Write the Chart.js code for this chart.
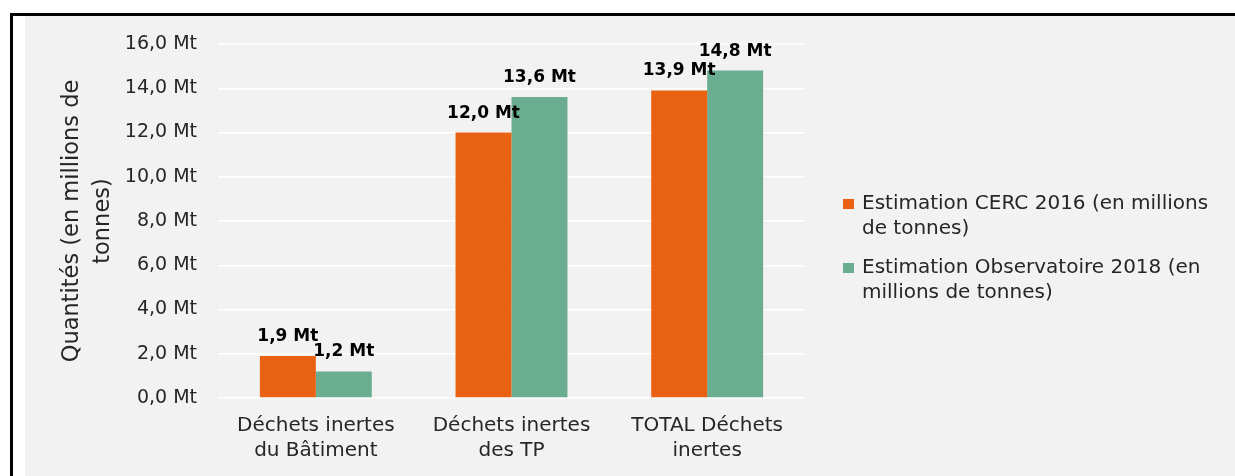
<!DOCTYPE html>
<html>
<head>
<meta charset="utf-8">
<script src="https://cdn.jsdelivr.net/npm/chart.js@4"></script>
<style>
  body { margin: 0; background: #fff; font-family: "DejaVu Sans", sans-serif; }
  #frame { position: absolute; left: 10px; top: 13px; width: 1225px; height: 463px;
           border-top: 3px solid #000; border-left: 3px solid #000; }
  #panel { position: absolute; left: 25px; top: 16px; width: 1210px; height: 460px; background: #f2f2f2; }
  #wrap { position: absolute; left: 0; top: 0; width: 1235px; height: 476px; }
  #legend { position: absolute; left: 843px; top: 190px; color: #262626; font-size: 20px; line-height: 25px; }
  .item { position: relative; padding-left: 19px; margin-bottom: 13.5px; white-space: nowrap; }
  .box { position: absolute; left: 0; top: 9px; width: 11px; height: 10px; }
</style>
</head>
<body>
<div id="frame"></div>
<div id="panel"></div>
<div id="wrap"><canvas id="chart"></canvas></div>
<div id="legend"></div>
<script>
// data
var categories = [['Déchets inertes', 'du Bâtiment'], ['Déchets inertes', 'des TP'], ['TOTAL Déchets', 'inertes']];
var cerc2016 = [1.9, 12.0, 13.9];
var observatoire2018 = [1.2, 13.6, 14.8];
var seriesNames = [
  ['Estimation CERC 2016 (en millions', 'de tonnes)'],
  ['Estimation Observatoire 2018 (en', 'millions de tonnes)']
];
var yTicks = ['0,0 Mt', '2,0 Mt', '4,0 Mt', '6,0 Mt', '8,0 Mt', '10,0 Mt', '12,0 Mt', '14,0 Mt', '16,0 Mt'];

var colors = ['#e96214', '#6aad91'];

function fmt(v) { return v.toFixed(1).replace('.', ',') + ' Mt'; }

// value labels above bars
var valueLabels = {
  id: 'valueLabels',
  afterDatasetsDraw: function(chart) {
    var ctx = chart.ctx;
    ctx.save();
    ctx.font = 'bold 17px "DejaVu Sans"';
    ctx.fillStyle = '#000';
    ctx.textAlign = 'center';
    ctx.textBaseline = 'alphabetic';
    chart.data.datasets.forEach(function(ds, i) {
      chart.getDatasetMeta(i).data.forEach(function(bar, j) {
        ctx.fillText(fmt(ds.data[j]), bar.x, bar.y - 15);
      });
    });
    ctx.restore();
  }
};

var ctx = document.getElementById('chart').getContext('2d');
var chart = new Chart(ctx, {
  type: 'bar',
  data: {
    labels: categories,
    datasets: [{
      label: seriesNames[0].join(' '),
      data: cerc2016,
      backgroundColor: colors[0]
    }, {
      label: seriesNames[1].join(' '),
      data: observatoire2018,
      backgroundColor: colors[1]
    }]
  },
  options: {
    responsive: true,
    maintainAspectRatio: false,
    animation: false,
    layout: { padding: { top: 44, right: 430, bottom: 0, left: 0 } },
    datasets: { bar: { categoryPercentage: 0.572, barPercentage: 1.0 } },
    plugins: {
      legend: { display: false },
      tooltip: { enabled: false }
    },
    scales: {
      x: {
        grid: { display: false, drawTicks: false },
        border: { display: false },
        ticks: {
          color: '#262626',
          padding: 15,
          font: { family: 'DejaVu Sans', size: 20, lineHeight: 1.25 }
        },
        afterFit: function(scale) { scale.height = 78; }
      },
      y: {
        min: 0,
        max: 16,
        grid: { color: '#ffffff', lineWidth: 1.5, drawTicks: false },
        border: { display: false },
        ticks: {
          stepSize: 2,
          color: '#262626',
          padding: 21,
          font: { family: 'DejaVu Sans', size: 19 },
          callback: function(v, i) { return yTicks[i]; }
        },
        title: {
          display: true,
          text: ['Quantités (en millions de', 'tonnes)'],
          color: '#262626',
          padding: { top: 56.5, bottom: 0 },
          font: { family: 'DejaVu Sans', size: 22.5, lineHeight: 1.378 }
        },
        afterFit: function(scale) { scale.width = 218; }
      }
    }
  },
  plugins: [valueLabels]
});

// legend with wrapped text as in the reference
var legend = document.getElementById('legend');
seriesNames.forEach(function(lines, i) {
  var item = document.createElement('div');
  item.className = 'item';
  var box = document.createElement('span');
  box.className = 'box';
  box.style.background = colors[i];
  item.appendChild(box);
  item.appendChild(document.createTextNode(lines[0]));
  item.appendChild(document.createElement('br'));
  item.appendChild(document.createTextNode(lines[1]));
  legend.appendChild(item);
});
</script>
</body>
</html>
